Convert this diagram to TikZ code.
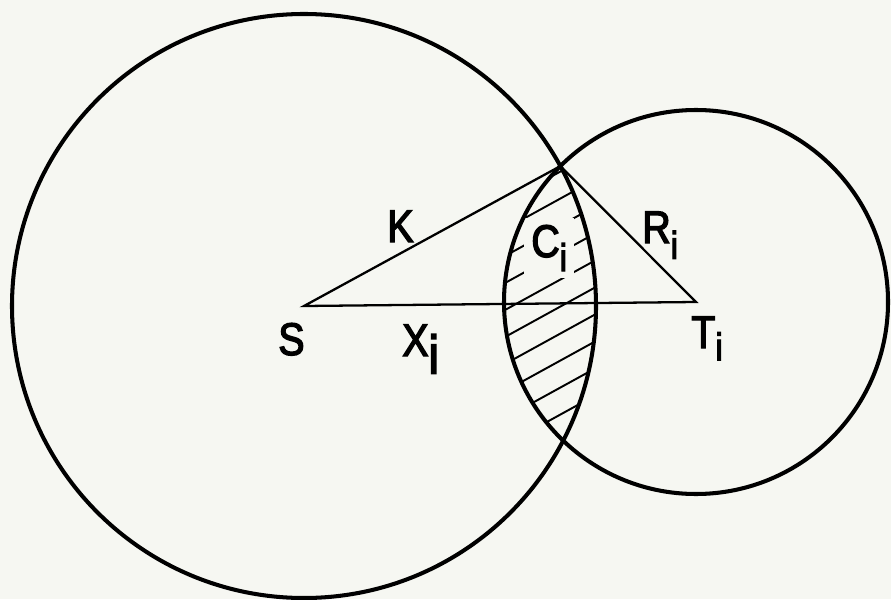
\documentclass[tikz,border=0pt]{standalone}
\usepackage{fontspec}
\setmainfont{Liberation Sans}[FakeStretch=0.86,FakeBold=3]
\usetikzlibrary{intersections}
\definecolor{paper}{HTML}{F6F7F2}
\newcommand{\subi}[2]{\raisebox{-#2}{\fontsize{#1}{#1}\selectfont i}}

\begin{document}
\begin{tikzpicture}[x=0.02cm,y=0.02cm,rim/.style={draw=black,line width=2.3pt},side/.style={draw=black,line width=1.3pt,line join=miter},hatch/.style={draw=black,line width=1.1pt},lbl/.style={font=\fontsize{26}{28}\selectfont,inner sep=0pt,anchor=base west}]
\fill[paper] (0,0) rectangle (891,599);
\useasboundingbox (0,0) rectangle (891,599);
\coordinate (S) at (304,293);
\coordinate (T) at (696,297);
\path[name path=bigc] (S) circle (292);
\path[name path=smallc] (T) circle (192);
\path[name intersections={of=bigc and smallc,sort by=bigc,by={Ctop,Cbot}}];
% hatching of the common part
\begin{scope}
\clip (S) circle (292);
\clip (T) circle (192);
\foreach \k in {-4,...,9}
  \draw[hatch] (400,{219+27*\k-0.55*125}) -- (650,{219+27*\k+0.55*125});
\end{scope}
\node[lbl,fill=paper,inner sep=4pt] (labC) at (524,342) {C\subi{22pt}{8pt}};
\draw[side] (S) -- (Ctop) -- (T) -- cycle;
\draw[rim] (S) circle (292);
\draw[rim] (T) circle (192);
\node[lbl] (labS) at (278,244) {S};
\node[lbl] (labX) at (402,243) {X\subi{31pt}{10pt}};
\node[lbl] (labK) at (387,357) {K};
\node[lbl] (labR) at (642,356) {R\subi{22pt}{9pt}};
\node[lbl] (labT) at (691,251) {T\subi{22pt}{7pt}};
\end{tikzpicture}
\end{document}
